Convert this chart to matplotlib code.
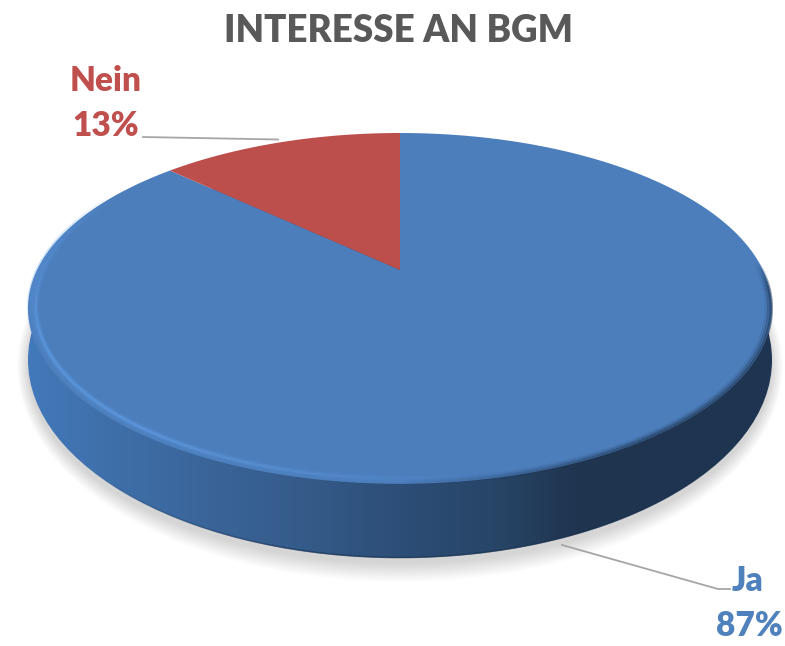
import numpy as np
import matplotlib
matplotlib.use("Agg")
import matplotlib.pyplot as plt
from matplotlib.collections import LineCollection
from matplotlib.colors import LinearSegmentedColormap, to_rgba
from matplotlib.patches import Ellipse
from matplotlib.path import Path
from matplotlib.transforms import Transform

categories = ["Ja", "Nein"]
values = [87, 13]
title = "INTERESSE AN BGM"

colors = ["#4c7ebc", "#bc4e4c"]
label_colors = ["#4f81bd", "#c0504d"]
FONT = "Lato"
WEIGHT = 800
CX, CY, RX, A, K = 400.0, 270.0, 363.0, 167.0, 0.219


class Perspective(Transform):
    """Projects the flat unit pie onto the tilted disc, in pixel-like data units."""
    input_dims = 2
    output_dims = 2
    is_separable = False
    has_inverse = False

    def transform_non_affine(self, xy):
        xy = np.asarray(xy, float)
        d = 1 + K * xy[:, 1]
        return np.column_stack([CX + RX * xy[:, 0] / d, CY - A * xy[:, 1] / d])

    def transform_path_non_affine(self, path):
        big = Path(path.vertices * 3000, path.codes)
        polys = big.to_polygons(closed_only=True)
        return Path(self.transform_non_affine(polys[0] / 3000))


persp = Perspective()
fig = plt.figure(figsize=(7.85, 6.46), dpi=100, facecolor="white")
ax = fig.add_axes([0, 0, 1, 1])

wedges, _ = ax.pie(values, colors=colors, startangle=90, counterclock=False,
                   radius=1, center=(0, 0), wedgeprops=dict(linewidth=0), normalize=True)
for w in wedges:
    w.set_transform(persp + ax.transData)
    w.set_zorder(5)

# soft drop shadow
for grow in np.linspace(18, 0, 14):
    ax.add_patch(Ellipse((400, 366), 2 * (372 + grow * 0.6), 2 * (198 + grow),
                         fc="black", ec="none", alpha=0.011, zorder=1))

# side wall with left-to-right shading
wall_cmap = LinearSegmentedColormap.from_list("wall", [
    (0.00, "#4279ba"), (0.10, "#3f70aa"), (0.25, "#3a6498"), (0.38, "#345a88"),
    (0.51, "#2c4d76"), (0.64, "#274465"), (0.74, "#1f344f"), (1.00, "#1e3552")])
grad = np.linspace(0, 1, 400).reshape(1, -1)
img = ax.imshow(grad, cmap=wall_cmap, extent=(28, 772, 646, 0), aspect="auto",
                interpolation="bilinear", zorder=2)
wall_outline = Ellipse((400, 360), 2 * 372, 2 * 198, transform=ax.transData)
img.set_clip_path(wall_outline)


def rim(r, th):
    th = np.radians(th)
    return persp.transform(np.column_stack([r * np.cos(th), r * np.sin(th)]))


def rim_strokes(r, th, strength, rgb, lw):
    pts = rim(r, th)
    segs = np.stack([pts[:-1], pts[1:]], axis=1)
    cols = [to_rgba(rgb, a) for a in strength[:-1]]
    ax.add_collection(LineCollection(segs, colors=cols, linewidths=lw, capstyle="butt", zorder=6))


# darker hairline along the wall's lower edge
t = np.linspace(215, 345, 200)
tr = np.radians(t)
pts = np.column_stack([400 + 371.5 * np.cos(tr), 360 - 197.5 * np.sin(tr)])
hair = np.clip((t - 215) / 40, 0, 1) * np.clip((345 - t) / 40, 0, 1) * 0.6
ax.add_collection(LineCollection(np.stack([pts[:-1], pts[1:]], axis=1),
                                 colors=[to_rgba("#1c3350", a) for a in hair[:-1]],
                                 linewidths=1.2, zorder=3))

# blurred dark rim on the right, blending face into wall
th = np.linspace(270, 362, 200)
fade = np.clip((th - 270) / 35, 0, 1) * np.clip((362 - th) / 8, 0, 1)
for r, lw, a in [(0.998, 2.5, 0.55), (0.992, 2.5, 0.30), (0.986, 2.5, 0.12)]:
    rim_strokes(r, th, fade * a, "#1f3550", lw)

# thin bright bevel on the lower left, fading towards the front
th = np.linspace(165, 282, 240)
fade = np.clip((th - 165) / 35, 0, 1) * np.clip((282 - th) / 50, 0, 1)
for r, lw, a in [(0.982, 6, 0.10), (0.980, 3.5, 0.20), (0.980, 1.8, 0.35)]:
    rim_strokes(r, th, fade * a, "#68a8f2", lw)
# faint lighter edge at the far left
th = np.linspace(150, 205, 100)
fade = np.clip((th - 150) / 20, 0, 1) * np.clip((205 - th) / 20, 0, 1)
rim_strokes(0.994, th, fade * 0.28, "#5c9ce6", 5)

# leader lines
ax.plot([143, 278], [137, 139.5], color="#a6a6a6", lw=1.3, zorder=7)
ax.plot([562, 718, 730], [545, 589, 589], color="#a6a6a6", lw=1.3, zorder=7)

# texts
ax.text(398, 31, title, ha="center", va="center", color="#595959",
        fontsize=26.5, fontweight=WEIGHT, family=FONT)
label_pos = {"Ja": ((748, 581), (749, 626)), "Nein": ((106, 81), (106, 126))}
for cat, val, col in zip(categories, values, label_colors):
    (x1, y1), (x2, y2) = label_pos[cat]
    ax.text(x1, y1, cat, ha="center", va="center", color=col, fontsize=24, fontweight=WEIGHT, family=FONT)
    ax.text(x2, y2, f"{val}%", ha="center", va="center", color=col, fontsize=24, fontweight=WEIGHT, family=FONT)

ax.set_aspect("auto")
ax.set_xlim(0, 785)
ax.set_ylim(646, 0)
ax.axis("off")
fig.savefig("out.png", dpi=100, facecolor="white")
